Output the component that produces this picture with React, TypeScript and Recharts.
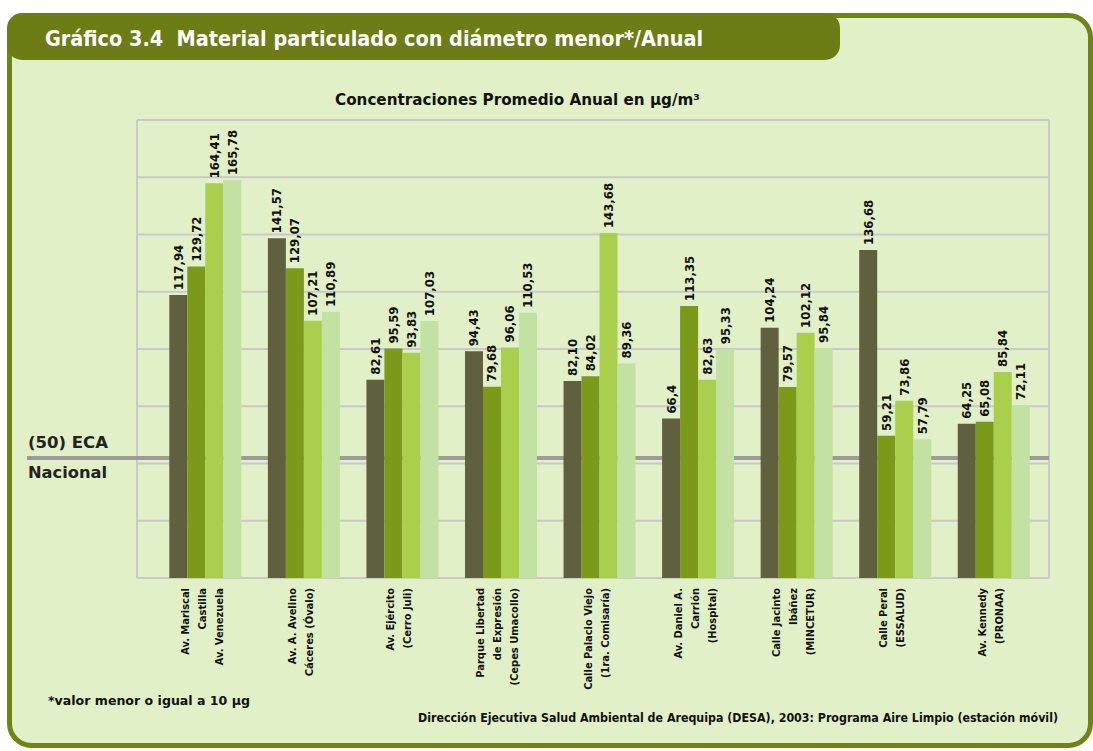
import React from 'react';
import { BarChart, Bar, XAxis, YAxis, CartesianGrid, ReferenceLine, LabelList } from 'recharts';

// ---- data ----
const categories = [
  'Av. Mariscal\nCastilla\nAv. Venezuela',
  'Av. A. Avelino\nCáceres (Óvalo)',
  'Av. Ejército\n(Cerro Juli)',
  'Parque Libertad\nde Expresión\n(Cepes Umacollo)',
  'Calle Palacio Viejo\n(1ra. Comisaría)',
  'Av. Daniel A.\nCarrión\n(Hospital)',
  'Calle Jacinto\nIbáñez\n(MINCETUR)',
  'Calle Peral\n(ESSALUD)',
  'Av. Kennedy\n(PRONAA)',
];
const serieA = ['117,94', '141,57', '82,61', '94,43', '82,10', '66,4', '104,24', '136,68', '64,25'];
const serieB = ['129,72', '129,07', '95,59', '79,68', '84,02', '113,35', '79,57', '59,21', '65,08'];
const serieC = ['164,41', '107,21', '93,83', '96,06', '143,68', '82,63', '102,12', '73,86', '85,84'];
const serieD = ['165,78', '110,89', '107,03', '110,53', '89,36', '95,33', '95,84', '57,79', '72,11'];
const ecaValue = 50;
const yMax = 190.8;

const title = 'Gráfico 3.4\u00a0\u00a0Material particulado con diámetro menor*/Anual';
const subtitle = 'Concentraciones Promedio Anual en µg/m³';
const note = '*valor menor o igual a 10 µg';
const source = 'Dirección Ejecutiva Salud Ambiental de Arequipa (DESA), 2003: Programa Aire Limpio (estación móvil)';

const toNum = (s: string) => parseFloat(s.replace(',', '.'));
const data = categories.map((c, i) => ({
  cat: c,
  a: toNum(serieA[i]), aL: serieA[i],
  b: toNum(serieB[i]), bL: serieB[i],
  c: toNum(serieC[i]), cL: serieC[i],
  d: toNum(serieD[i]), dL: serieD[i],
}));
const gridTicks = Array.from({ length: 9 }, (_, i) => (yMax * i) / 8);

const FONT = "'DejaVu Sans Condensed', 'DejaVu Sans', sans-serif";
const colors = ['#5f603e', '#7b9a19', '#a9cf4d', '#c3e1a3'];

const makeLabel = (labels: string[]) => (props: any) => {
  const { x, y, width, index } = props;
  const cx = x + width / 2;
  const ty = y - 5;
  return (
    <text
      x={cx}
      y={ty}
      transform={`rotate(-90 ${cx} ${ty})`}
      textAnchor="start"
      dominantBaseline="central"
      fontFamily={FONT}
      fontWeight="bold"
      fontSize={13}
      fill="#111"
    >
      {labels[index]}
    </text>
  );
};

const CatTick = (props: any) => {
  const { x, y, payload } = props;
  const lines: string[] = String(payload.value).split('\n');
  const n = lines.length;
  const top = y + 2;
  return (
    <g>
      {lines.map((ln, i) => {
        const lx = x - 4 + (i - (n - 1) / 2) * 17;
        return (
          <text
            key={i}
            x={lx}
            y={top}
            transform={`rotate(-90 ${lx} ${top})`}
            textAnchor="end"
            dominantBaseline="central"
            fontFamily={FONT}
            fontWeight="bold"
            fontSize={11}
            fill="#111"
          >
            {ln}
          </text>
        );
      })}
    </g>
  );
};

const EcaShape = (props: any) => {
  const { x2, y1, y2 } = props;
  return (
    <g>
      <line x1={27} y1={y1} x2={x2} y2={y2} stroke="#9b9b9b" strokeWidth={4} />
      <text x={28} y={y1 - 15} dominantBaseline="central" fontFamily={FONT} fontSize={15} fontWeight={600} fill="#222" textLength={80} lengthAdjust="spacingAndGlyphs">
        (50) ECA
      </text>
      <text x={28} y={y1 + 15} dominantBaseline="central" fontFamily={FONT} fontSize={15} fontWeight="bold" fill="#222" textLength={79} lengthAdjust="spacingAndGlyphs">
        Nacional
      </text>
    </g>
  );
};

export default function App() {
  const W = 1093;
  const H = 751;
  return (
    <div style={{ position: 'absolute', left: 0, top: 0, width: W, height: H, overflow: 'hidden', background: '#ffffff' }}>
      <svg width={W} height={H} style={{ position: 'absolute', left: 0, top: 0 }}>
        <rect x={9.5} y={15.5} width={1081} height={730} rx={22} ry={22} fill="#e1f0c6" stroke="#6e8416" strokeWidth={5} />
        <rect x={7} y={13} width={833} height={47} rx={15} ry={15} fill="#6b7d14" />
        <text x={45} y={38} dominantBaseline="central" fontFamily={FONT} fontWeight="bold" fontSize={22} fill="#ffffff" textLength={658} lengthAdjust="spacingAndGlyphs">
          {title}
        </text>
        <text x={335} y={100} dominantBaseline="central" fontFamily={FONT} fontWeight="bold" fontSize={15} fill="#111" textLength={365} lengthAdjust="spacingAndGlyphs">
          {subtitle}
        </text>
        <text x={48} y={700} dominantBaseline="central" fontFamily={FONT} fontWeight="bold" fontSize={13} fill="#111" textLength={202} lengthAdjust="spacingAndGlyphs">
          {note}
        </text>
        <text x={418} y={718} dominantBaseline="central" fontFamily={FONT} fontWeight="bold" fontSize={12} fill="#111" textLength={640} lengthAdjust="spacingAndGlyphs">
          {source}
        </text>
      </svg>
      <div style={{ position: 'absolute', left: 0, top: 0 }}>
        <BarChart
          width={W}
          height={H}
          data={data}
          margin={{ top: 120, left: 137, right: 44, bottom: 53 }}
          barCategoryGap="12.5%"
          barGap={0}
        >
          <CartesianGrid
            stroke="#c9c9c9"
            strokeWidth={2}
            horizontal={true}
            vertical={true}
            verticalCoordinatesGenerator={({ offset }: any) => [offset.left, offset.left + offset.width]}
          />
          <XAxis
            dataKey="cat"
            interval={0}
            axisLine={false}
            tickLine={false}
            height={120}
            padding={{ left: 20, right: 5 }}
            tick={<CatTick />}
          />
          <YAxis hide domain={[0, yMax]} ticks={gridTicks} allowDataOverflow />
          <ReferenceLine y={ecaValue} shape={<EcaShape />} zIndex={-50} ifOverflow="visible" />
          <Bar dataKey="a" fill={colors[0]} isAnimationActive={false}>
            <LabelList dataKey="a" content={makeLabel(serieA)} />
          </Bar>
          <Bar dataKey="b" fill={colors[1]} isAnimationActive={false}>
            <LabelList dataKey="b" content={makeLabel(serieB)} />
          </Bar>
          <Bar dataKey="c" fill={colors[2]} isAnimationActive={false}>
            <LabelList dataKey="c" content={makeLabel(serieC)} />
          </Bar>
          <Bar dataKey="d" fill={colors[3]} isAnimationActive={false}>
            <LabelList dataKey="d" content={makeLabel(serieD)} />
          </Bar>
        </BarChart>
      </div>
    </div>
  );
}
